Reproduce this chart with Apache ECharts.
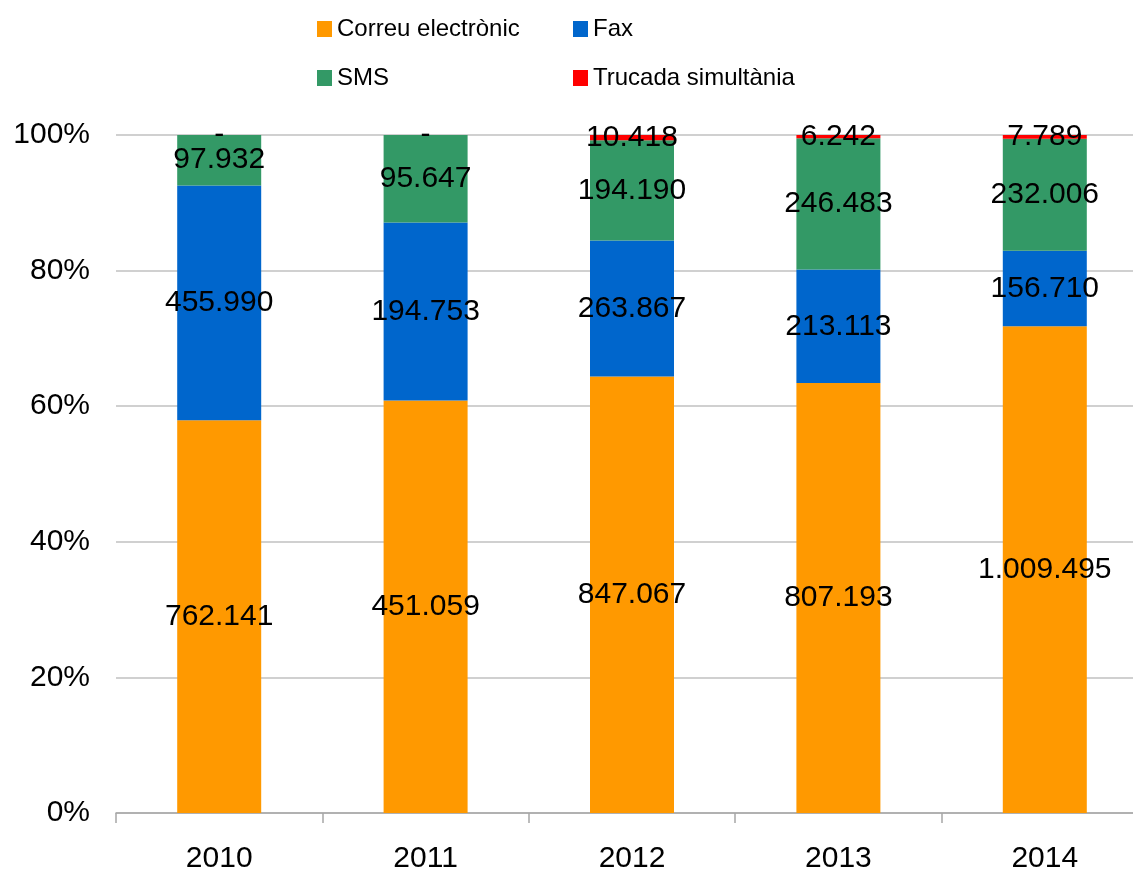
<!DOCTYPE html>
<html>
<head>
<meta charset="utf-8">
<style>html,body{margin:0;padding:0;background:#fff;overflow:hidden;width:1133px;height:874px;}#c{width:1148px;height:874px;}</style>
<script src="https://cdn.jsdelivr.net/npm/echarts@6/dist/echarts.min.js"></script>
</head>
<body>
<div id="c"></div>
<script>
const categories = ['2010', '2011', '2012', '2013', '2014'];
const seriesNames = ['Correu electrònic', 'Fax', 'SMS', 'Trucada simultània'];
const correu = [762141, 451059, 847067, 807193, 1009495];
const fax = [455990, 194753, 263867, 213113, 156710];
const sms = [97932, 95647, 194190, 246483, 232006];
const trucada = [0, 0, 10418, 6242, 7789];
const colors = ['#FF9900', '#0066CC', '#339966', '#FF0000'];
const yTicks = ['0%', '20%', '40%', '60%', '80%', '100%'];

const raw = [correu, fax, sms, trucada];
const totals = categories.map((_, i) => raw.reduce((s, arr) => s + arr[i], 0));
function fmt(v) {
  if (!v) return '-';
  return String(v).replace(/\B(?=(\d{3})+(?!\d))/g, '.');
}
const FONT = 'Liberation Sans, Arial, sans-serif';
const legendText = { fontFamily: FONT, fontSize: 24, color: '#000', lineHeight: 24 };
const chart = echarts.init(document.getElementById('c'));
chart.setOption({
  animation: false,
  legend: [
    {
      data: [seriesNames[0], seriesNames[2]], orient: 'vertical', left: 317, top: 17, padding: 0,
      itemWidth: 15, itemHeight: 16, itemGap: 25, icon: 'rect', textStyle: legendText
    },
    {
      data: [seriesNames[1], seriesNames[3]], orient: 'vertical', left: 573, top: 17, padding: 0,
      itemWidth: 15, itemHeight: 16, itemGap: 25, icon: 'rect', textStyle: legendText
    }
  ],
  grid: { left: 116, right: 0, top: 135, bottom: 59, containLabel: false },
  xAxis: {
    type: 'category', data: categories,
    axisLine: { lineStyle: { color: '#A6A6A6', width: 1.5 } },
    axisTick: { show: true, length: 10, lineStyle: { color: '#A6A6A6', width: 1.5 } },
    axisLabel: { fontFamily: FONT, fontSize: 30, color: '#000', margin: 31 }
  },
  yAxis: {
    type: 'value', min: 0, max: 100, interval: 20,
    axisLine: { show: false }, axisTick: { show: false },
    splitLine: { lineStyle: { color: '#C0C0C0', width: 1.5 } },
    axisLabel: {
      fontFamily: FONT, fontSize: 30, color: '#000', margin: 26,
      formatter: (v) => yTicks[Math.round(v / 20)]
    }
  },
  series: raw.map((arr, k) => ({
    name: seriesNames[k], type: 'bar', stack: 'all', barWidth: 84,
    itemStyle: { color: colors[k] },
    data: arr.map((v, i) => ({ value: v / totals[i] * 100, raw: v })),
    label: {
      show: true, position: 'inside', fontFamily: FONT, fontSize: 30, color: '#000',
      formatter: (p) => fmt(p.data.raw)
    }
  }))
});
</script>
</body>
</html>
